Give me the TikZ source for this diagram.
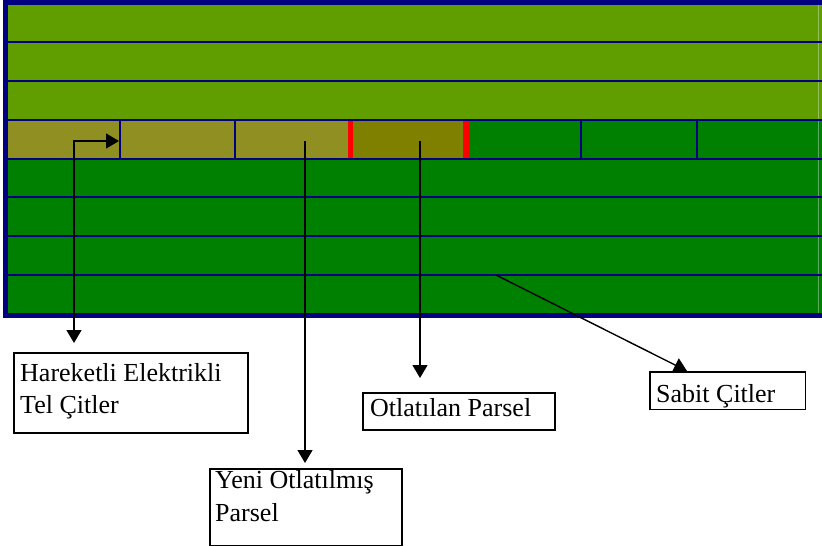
\documentclass[tikz,border=0pt]{standalone}
\usepackage{fontspec}
\setmainfont{Liberation Serif}
\usetikzlibrary{arrows.meta}
\definecolor{navy}{RGB}{0,0,128}
\definecolor{lgreen}{RGB}{96,158,0}
\definecolor{dgreen}{RGB}{0,128,0}
\definecolor{lolive}{RGB}{143,143,34}
\definecolor{olive}{RGB}{128,128,0}
\definecolor{fred}{RGB}{255,0,0}
\tikzset{
  fence/.style={navy, line width=2pt},
  tbox/.style={draw=black, line width=1.6pt, fill=white, anchor=north west, inner sep=0pt},
  txt/.style={anchor=base west, inner sep=0pt, font=\fontsize{26}{32}\selectfont},
  arr/.style={black, line width=1.4pt, -{Triangle[length=13pt,width=15pt]}},
  arrb/.style={black, line width=1.4pt, {Triangle[length=13pt,width=15pt]}-{Triangle[length=13pt,width=15pt]}}
}
\begin{document}
\begin{tikzpicture}[x=1pt,y=-1pt]
\useasboundingbox (0,0) rectangle (822,546);
% field frame
\fill[navy] (3,0) rectangle (822,318);
\fill[lgreen] (8,5) rectangle (822,120);
\fill[dgreen] (8,158.5) rectangle (822,313);
% parcel row
\fill[lolive] (8,120) rectangle (348,158.5);
\fill[olive] (348,120) rectangle (466,158.5);
\fill[dgreen] (466,120) rectangle (822,158.5);
\fill[fred] (347.7,121) rectangle (353.3,158);
\fill[fred] (463,121) rectangle (469,158);
% faint edge line
\draw[white, opacity=0.35, line width=0.8pt] (818,5) -- (818,313);
% horizontal fences
\foreach \yy in {42,81,120,158.5,197,236,275}
  \draw[fence] (8,\yy) -- (822,\yy);
% moving fences
\foreach \xx in {120,235,581,697}
  \draw[fence] (\xx,119) -- (\xx,160);
% label boxes
\node[tbox, minimum width=234pt, minimum height=80pt] (hbox) at (13,352) {};
\node[txt] (h1) at (20,381) {Hareketli Elektrikli};
\node[txt] (h2) at (20,413) {Tel Çitler};
\node[tbox, minimum width=192pt, minimum height=77pt] (ybox) at (209,468) {};
\node[txt] (y1) at (215,488) {Yeni Otlatılmış};
\node[txt] (y2) at (215,521) {Parsel};
\node[tbox, minimum width=192pt, minimum height=37pt] (obox) at (362,392) {};
\node[txt] (o1) at (370,416) {Otlatılan Parsel};
\node[tbox, minimum width=154pt, minimum height=36pt] (sbox) at (650,372) {};
% connector end points
\coordinate (a1b) at (74,343);
\coordinate (a1t) at (119,141);
\coordinate (a2s) at (305,141);
\coordinate (a2t) at (305,463);
\coordinate (a3s) at (420,141);
\coordinate (a3t) at (420,378);
\coordinate (a4s) at (496,275);
\coordinate (a4t) at (687,371);
% connectors
\draw[arrb] (a1b) |- (a1t);
\draw[arr] (a2s) -- (a2t);
\draw[arr] (a3s) -- (a3t);
\draw[arr] (a4s) -- (a4t);
% box redrawn over the arrow tip
\draw[black, line width=1.6pt, fill=white] (sbox.north west) rectangle (sbox.south east);
\node[txt] (s1) at (656,402) {Sabit Çitler};
\end{tikzpicture}
\end{document}
